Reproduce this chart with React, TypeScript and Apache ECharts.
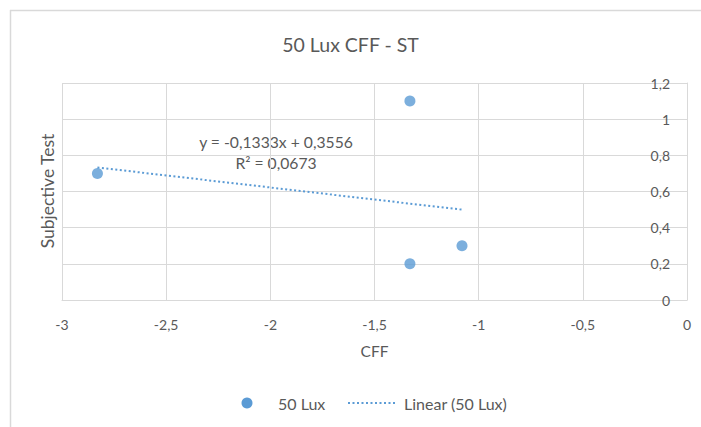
import React, { useEffect, useRef } from "react";
import * as echarts from "echarts";

const titleText = "50 Lux CFF - ST";
const seriesName = "50 Lux";
const trendName = "Linear (50 Lux)";
const xAxisName = "CFF";
const yAxisName = "Subjective Test";
const cffValues = [-2.83, -1.33, -1.33, -1.08];
const stValues = [0.7, 1.1, 0.2, 0.3];
const trendSlope = -0.1333;
const trendIntercept = 0.3556;
const equationText = "y = -0,1333x + 0,3556";
const r2Text = "R² = 0,0673";
const xMin = -3;
const xMax = 0;
const xInterval = 0.5;
const yMin = 0;
const yMax = 1.2;
const yInterval = 0.2;

const FONT = "Lato, 'Open Sans', sans-serif";
const TEXT = "#595959";
const GRID = "#d9d9d9";
const BLUE = "#5b9bd5";
const DOTS = [2, 2.5];

const fmt = (v: number) => String(Math.round(v * 10) / 10).replace(".", ",");

export default function App() {
  const ref = useRef<HTMLDivElement>(null);
  useEffect(() => {
    document.body.style.margin = "0";
    const chart = echarts.init(ref.current!, undefined, { renderer: "svg" });
    const points = cffValues.map((x, i) => [x, stValues[i]]);
    const tMin = Math.min(...cffValues);
    const tMax = Math.max(...cffValues);
    const trend = [
      [tMin, trendSlope * tMin + trendIntercept],
      [tMax, trendSlope * tMax + trendIntercept],
    ];
    const legendY = 403;
    chart.setOption({
      animation: false,
      backgroundColor: "#ffffff",
      textStyle: { fontFamily: FONT },
      title: {
        text: titleText,
        left: "center",
        top: 29,
        textStyle: { fontFamily: FONT, fontSize: 19.5, fontWeight: "normal", color: TEXT },
      },
      grid: { left: 62, right: 14, top: 83, bottom: 127, containLabel: false },
      xAxis: {
        type: "value",
        min: xMin,
        max: xMax,
        interval: xInterval,
        name: xAxisName,
        nameLocation: "middle",
        nameGap: 43,
        nameTextStyle: { fontFamily: FONT, fontSize: 15.5, color: TEXT },
        axisLine: { show: true, onZero: false, lineStyle: { color: GRID } },
        axisTick: { show: false },
        axisLabel: { formatter: fmt, color: TEXT, fontSize: 14, fontFamily: FONT, margin: 17 },
        splitLine: { show: true, lineStyle: { color: GRID, width: 1 } },
      },
      yAxis: {
        type: "value",
        position: "right",
        min: yMin,
        max: yMax,
        interval: yInterval,
        axisLine: { show: true, onZero: false, lineStyle: { color: GRID } },
        axisTick: { show: false },
        axisLabel: { inside: true, formatter: fmt, color: TEXT, fontSize: 14, fontFamily: FONT, margin: 17 },
        splitLine: { show: true, lineStyle: { color: GRID, width: 1 } },
      },
      series: [
        {
          name: seriesName,
          type: "scatter",
          data: points,
          symbol: "circle",
          symbolSize: 11,
          itemStyle: { color: BLUE },
          z: 3,
        },
        {
          name: trendName,
          type: "line",
          data: trend,
          symbol: "none",
          lineStyle: { color: BLUE, width: 2, type: DOTS },
          z: 2,
        },
      ],
      graphic: [
        {
          type: "line",
          shape: { x1: 10.5, y1: 10, x2: 10.5, y2: 427 },
          style: { stroke: GRID, lineWidth: 1.5 },
        },
        {
          type: "line",
          shape: { x1: 10, y1: 10.5, x2: 701, y2: 10.5 },
          style: { stroke: GRID, lineWidth: 1.5 },
        },
        {
          type: "text",
          x: 47,
          y: 191,
          rotation: Math.PI / 2,
          style: {
            text: yAxisName,
            fontFamily: FONT,
            fontSize: 17.5,
            fill: TEXT,
            align: "center",
            verticalAlign: "middle",
          },
        },
        {
          type: "text",
          x: 276,
          y: 142,
          style: {
            text: equationText,
            fontFamily: FONT,
            fontSize: 15.7,
            fill: TEXT,
            align: "center",
            verticalAlign: "middle",
          },
        },
        {
          type: "text",
          x: 276,
          y: 163,
          style: {
            text: r2Text,
            fontFamily: FONT,
            fontSize: 15.7,
            fill: TEXT,
            align: "center",
            verticalAlign: "middle",
          },
        },
        // legend
        {
          type: "circle",
          shape: { cx: 247, cy: legendY, r: 5.5 },
          style: { fill: BLUE },
        },
        {
          type: "text",
          x: 278,
          y: legendY,
          style: {
            text: seriesName,
            fontFamily: FONT,
            fontSize: 16,
            fill: TEXT,
            align: "left",
            verticalAlign: "middle",
          },
        },
        {
          type: "line",
          shape: { x1: 348, y1: legendY, x2: 395, y2: legendY },
          style: { stroke: BLUE, lineWidth: 2, lineDash: DOTS },
        },
        {
          type: "text",
          x: 404,
          y: legendY,
          style: {
            text: trendName,
            fontFamily: FONT,
            fontSize: 16,
            fill: TEXT,
            align: "left",
            verticalAlign: "middle",
          },
        },
      ],
    });
    return () => chart.dispose();
  }, []);
  return <div ref={ref} style={{ width: 701, height: 427 }} />;
}
